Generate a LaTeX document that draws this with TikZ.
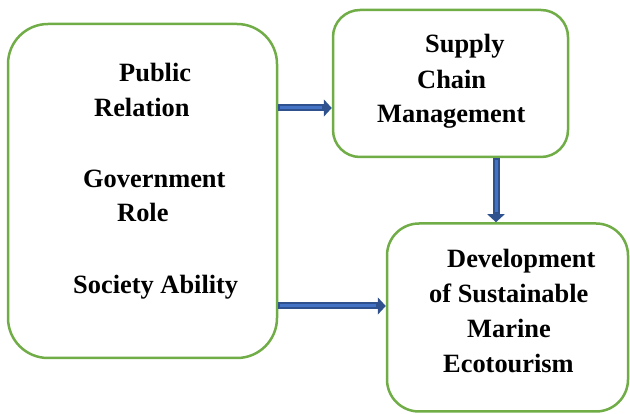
\documentclass[tikz,border=0pt]{standalone}
\usepackage{fontspec}
\setmainfont{Liberation Serif}
\usetikzlibrary{arrows.meta}
\definecolor{boxgreen}{HTML}{70AD47}
\definecolor{arrdark}{HTML}{2F528F}
\definecolor{arrfill}{HTML}{4472C4}
\tikzset{
  gbox/.style={draw=boxgreen, line width=2.5pt, rectangle, fill=white, inner sep=0pt},
  lbl/.style={anchor=base west, inner sep=0pt, font=\fontsize{26.4}{30}\selectfont\bfseries},
  arrowouter/.style={draw=arrdark, line width=7pt, -{Triangle[width=17pt,length=8pt]}},
  arrowinner/.style={draw=arrfill, line width=3pt}
}
\begin{document}
\begin{tikzpicture}[x=1pt,y=-1pt]
\useasboundingbox (0,0) rectangle (630,414);
% boxes
\node[gbox, rounded corners=40pt, minimum width=269pt, minimum height=334pt] (pr) at (142.5,191) {};
\node[gbox, rounded corners=27pt, minimum width=235pt, minimum height=147pt] (sc) at (450.5,83.5) {};
\node[gbox, rounded corners=32pt, minimum width=241pt, minimum height=188pt] (dv) at (507.5,317.5) {};
% texts left
\node[lbl] (t1) at (119,82) {Public};
\node[lbl] (t2) at (94,117) {Relation};
\node[lbl] (t3) at (83,188) {Government};
\node[lbl] (t4) at (117,222) {Role};
\node[lbl] (t5) at (73,294) {Society Ability};
% texts supply
\node[lbl] (s1) at (425,53) {Supply};
\node[lbl] (s2) at (417,89) {Chain};
\node[lbl] (s3) at (377,123) {Management};
% texts development
\node[lbl] (d1) at (447,268) {Development};
\node[lbl] (d2) at (429,303) {of Sustainable};
\node[lbl] (d3) at (467,338) {Marine};
\node[lbl] (d4) at (443,373) {Ecotourism};
% arrow levels
\coordinate (a1) at (0,108);
\coordinate (a2) at (0,306);
\coordinate (a3) at (496,0);
% arrows
\draw[arrowouter] (pr.east |- a1) -- (sc.west |- a1);
\draw[arrowinner, shorten <=2pt, shorten >=10pt] (pr.east |- a1) -- (sc.west |- a1);
\draw[arrowouter] (pr.east |- a2) -- (dv.west |- a2);
\draw[arrowinner, shorten <=2pt, shorten >=10pt] (pr.east |- a2) -- (dv.west |- a2);
\draw[arrowouter] (a3 |- sc.south) -- (a3 |- dv.north);
\draw[arrowinner, shorten <=2pt, shorten >=10pt] (a3 |- sc.south) -- (a3 |- dv.north);
\end{tikzpicture}
\end{document}
